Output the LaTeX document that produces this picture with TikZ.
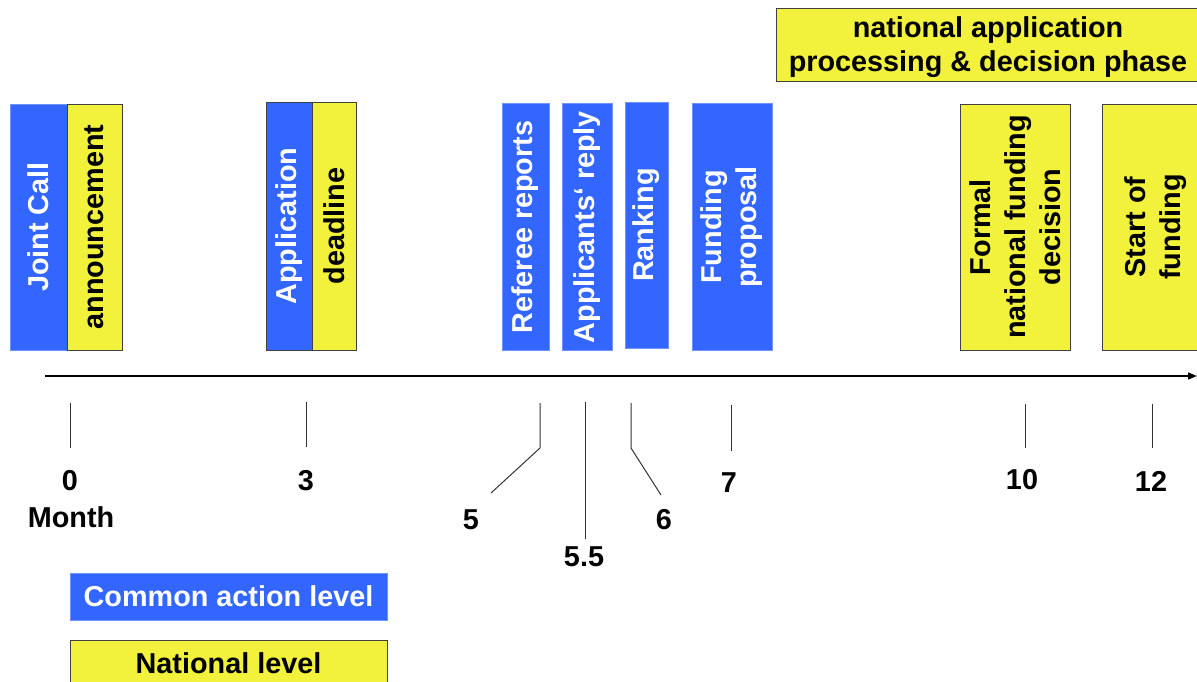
\documentclass[tikz,border=0pt]{standalone}
\usepackage{fontspec}
\setmainfont{Liberation Sans}
\usetikzlibrary{arrows.meta}
\definecolor{cblue}{RGB}{51,102,255}
\definecolor{cyellow}{RGB}{242,242,60}
\definecolor{cedge}{RGB}{64,64,64}
\begin{document}
\begin{tikzpicture}[x=1pt,y=-1pt,
  every node/.style={font=\fontsize{28.8}{35}\selectfont\bfseries, inner sep=0pt, outer sep=0pt},
  bluebox/.style={fill=cblue, draw=cblue!70!white, line width=0.8pt, text=white, align=center},
  yelbox/.style={fill=cyellow, draw=cedge, line width=1pt, text=black, align=center},
  vert/.style={rotate=90},
  tick/.style={draw=black!80, line width=1pt},
  lab/.style={text=black}]
\useasboundingbox (0,0) rectangle (1197,681);

% top phase box
\node[yelbox, minimum width=424, minimum height=73] (phase) at (988,44.5) {\raisebox{-3pt}[\height][\depth]{\begin{tabular}{@{}c@{}}national application\\[-0.5pt]processing \& decision phase\end{tabular}}};

% event boxes (rotated: minimum width = vertical extent, minimum height = horizontal extent)
\node[bluebox, vert, minimum width=246, minimum height=57] (joint) at (38.5,227) {Joint Call};
\node[yelbox, vert, minimum width=246, minimum height=55] (annc) at (94.5,227) {announcement};
\node[bluebox, vert, draw=cedge, minimum width=248, minimum height=46] (appl) at (289,226) {Application};
\node[yelbox, vert, minimum width=248, minimum height=44] (dead) at (334,226) {deadline};
\node[bluebox, vert, minimum width=247, minimum height=47] (ref) at (525.5,227) {Referee reports};
\node[bluebox, vert, minimum width=247, minimum height=50] (reply) at (587,227) {Applicants‘ reply};
\node[bluebox, vert, minimum width=246, minimum height=43] (rank) at (646.5,225) {Ranking};
\node[bluebox, vert, minimum width=247, minimum height=80] (fprop) at (732,227) {Funding\\proposal};
\node[yelbox, vert, minimum width=246, minimum height=110] (formal) at (1015,227) {Formal\\national funding\\decision};
\node[yelbox, vert, minimum width=246, minimum height=108] (start) at (1156,227) {Start of\\funding};

% axis
\coordinate (axs) at (45,376);
\coordinate (axe) at (1197,376);
\draw[line width=1.3pt, -{Triangle[length=9pt,width=7pt]}] (axs) -- (axe);

% tick labels
\node[lab] (l0) at (70,481) {0};
\node[lab] (lmonth) at (71,517) {Month};
\node[lab] (l3) at (306,481) {3};
\node[lab] (l5) at (471,520) {5};
\node[lab] (l55) at (584,557) {5.5};
\node[lab] (l6) at (664,520) {6};
\node[lab] (l7) at (729,483) {7};
\node[lab] (l10) at (1022,480) {10};
\node[lab] (l12) at (1151,481) {12};

% ticks
\coordinate (t0a) at (70,403);  \coordinate (t0b) at (70,448);
\coordinate (t3a) at (306,402); \coordinate (t3b) at (306,447);
\coordinate (t5a) at (540,403); \coordinate (t5b) at (540,448); \coordinate (t5c) at (491,493);
\coordinate (t55a) at (585,402); \coordinate (t55b) at (585,539);
\coordinate (t6a) at (631,403); \coordinate (t6b) at (631,448); \coordinate (t6c) at (661,495);
\coordinate (t7a) at (731,405); \coordinate (t7b) at (731,451);
\coordinate (t10a) at (1025,404); \coordinate (t10b) at (1025,448);
\coordinate (t12a) at (1152,404); \coordinate (t12b) at (1152,448);
\draw[tick] (t0a) -- (t0b);
\draw[tick] (t3a) -- (t3b);
\draw[tick] (t5a) -- (t5b) -- (t5c);
\draw[tick] (t55a) -- (t55b);
\draw[tick] (t6a) -- (t6b) -- (t6c);
\draw[tick] (t7a) -- (t7b);
\draw[tick] (t10a) -- (t10b);
\draw[tick] (t12a) -- (t12b);

% legend
\node[bluebox, minimum width=317, minimum height=47] (lgblue) at (228.5,596.5) {Common action level};
\node[yelbox, minimum width=317, minimum height=46] (lgyel) at (228.5,663) {National level};
\end{tikzpicture}
\end{document}
